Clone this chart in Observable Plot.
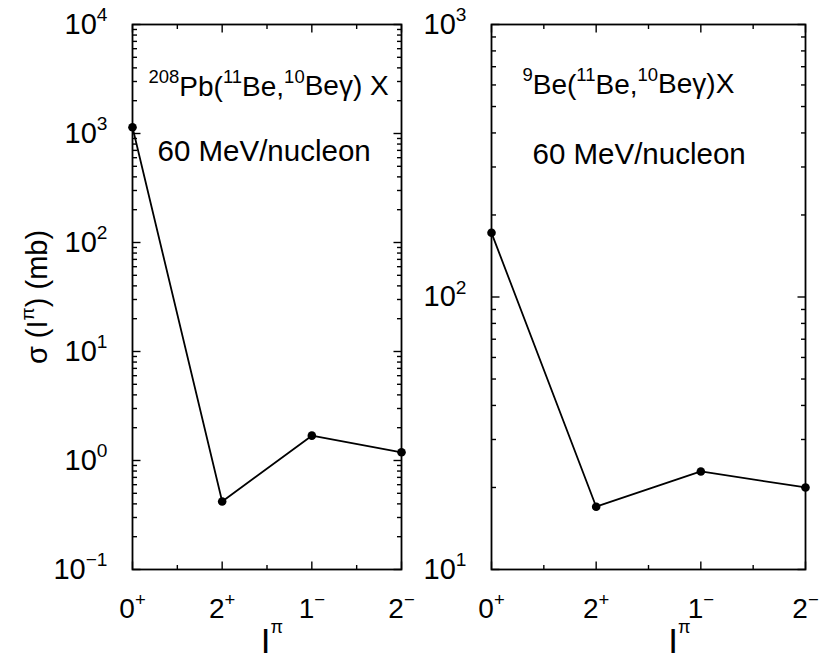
<!DOCTYPE html>
<html><head><meta charset="utf-8">
<script src="https://cdn.jsdelivr.net/npm/d3@7"></script>
<script src="https://cdn.jsdelivr.net/npm/@observablehq/plot@0.6"></script>
<style>
html,body{margin:0;padding:0;background:#fff;}
#chart{position:relative;width:823px;height:660px;overflow:hidden;}
#chart > .panel{position:absolute;top:0;}
svg{overflow:visible}
</style></head><body><div id="chart"></div>
<script>
// ---- data ----
const states = ["0^{+}", "2^{+}", "1^{−}", "2^{−}"];
const pbValues = [1140, 0.42, 1.69, 1.19];
const beValues = [172, 17.0, 22.9, 20.0];
const pbTitle = "^{208}Pb(^{11}Be,^{10}Beγ) X";
const beTitle = "^{9}Be(^{11}Be,^{10}Beγ)X";
const energyLabel = "60 MeV/nucleon";
const yTitle = "σ (I^{π}) (mb)";
const xTitle = "I^{π}";
const pbDecades = [0.1, 1, 10, 100, 1000, 10000];
const beDecades = [10, 100, 1000];
const xMajor = [0, 1, 2, 3];
const xMinor = [0.5, 1.5, 2.5];

const FONT = '"Liberation Sans", Arial, Helvetica, sans-serif';
const tickShape = {draw(context, l) { context.moveTo(0, 0); context.lineTo(0, -l); }};

function expLabel(d) {
  const e = Math.round(Math.log10(d));
  return "10^{" + (e < 0 ? "−" + (-e) : String(e)) + "}";
}

function richText(root) {
  root.querySelectorAll("text").forEach(t => {
    const s = t.textContent;
    if (!s.includes("^{")) return;
    let fs = 0, el = t;
    while (el && el !== root && !fs) { fs = parseFloat(el.getAttribute && el.getAttribute("font-size")) || 0; el = el.parentNode; }
    const SUP = fs > 33 ? 0.52 : 0.66, SHIFT = fs > 33 ? 0.57 : 0.44;
    const parts = s.split(/(\^\{[^}]*\})/).filter(p => p.length);
    while (t.firstChild) t.removeChild(t.firstChild);
    let raised = false;
    parts.forEach(p => {
      const ts = document.createElementNS("http://www.w3.org/2000/svg", "tspan");
      if (p.startsWith("^{")) {
        ts.textContent = p.slice(2, -1);
        ts.setAttribute("font-size", (SUP * 100) + "%");
        if (!raised) ts.setAttribute("dy", (-SHIFT / SUP).toFixed(3) + "em");
        raised = true;
      } else {
        ts.textContent = p;
        if (raised) ts.setAttribute("dy", SHIFT + "em");
        raised = false;
      }
      t.appendChild(ts);
    });
  });
}

function ticks(values, channel, side, length) {
  const rot = {left: 90, right: -90, bottom: 0, top: 180}[side];
  const o = {frameAnchor: side, rotate: rot, length, anchor: "start", shape: tickShape,
             stroke: "black", strokeWidth: 1.4, strokeLinecap: "butt"};
  o[channel] = d => d;
  return Plot.vector(values, o);
}

function panel(cfg) {
  const rows = cfg.values.map((v, i) => ({i, v}));
  const minor = [];
  for (let j = 0; j < cfg.decades.length - 1; j++)
    for (let k = 2; k <= 9; k++) minor.push(k * cfg.decades[j]);
  const marks = [
    ticks(cfg.decades, "y", "left", 8), ticks(minor, "y", "left", 4.5),
    ticks(cfg.decades, "y", "right", 8), ticks(minor, "y", "right", 4.5),
    ticks(xMajor, "x", "bottom", 8), ticks(xMinor, "x", "bottom", 4.5),
    ticks(xMajor, "x", "top", 8), ticks(xMinor, "x", "top", 4.5),
    Plot.frame({stroke: "black", strokeWidth: 1.8}),
    Plot.axisY(cfg.decades, {anchor: "left", tickSize: 0, tickPadding: 25, tickFormat: expLabel,
      fontSize: 29, fontFamily: FONT, fill: "black", label: null}),
    Plot.axisX(xMajor, {anchor: "bottom", tickSize: 0, tickPadding: 29, tickFormat: i => states[i],
      fontSize: 28, fontFamily: FONT, fill: "black", label: null}),
    Plot.line(rows, {x: d => d.i, y: d => d.v, stroke: "black", strokeWidth: 1.8}),
    Plot.dot(rows, {x: d => d.i, y: d => d.v, r: 4.3, fill: "black", stroke: "none"}),
    Plot.text([cfg.title], {text: d => d, frameAnchor: "top-left", dx: cfg.titleDx, dy: cfg.titleDy,
      textAnchor: "start", lineAnchor: "bottom", fontSize: 28, fontFamily: FONT, fill: "black"}),
    Plot.text([energyLabel], {text: d => d, frameAnchor: "top-left", dx: cfg.energyDx, dy: cfg.energyDy,
      textAnchor: "start", lineAnchor: "bottom", fontSize: 29.5, fontFamily: FONT, fill: "black"}),
    Plot.text([xTitle], {text: d => d, frameAnchor: "bottom", dx: cfg.xTitleDx, dy: 83,
      textAnchor: "middle", lineAnchor: "bottom", fontSize: 35, fontFamily: FONT, fill: "black"})
  ];
  if (cfg.showYTitle) marks.push(Plot.text([yTitle], {text: d => d, frameAnchor: "left", dx: -95, rotate: -90,
      textAnchor: "middle", lineAnchor: "middle", fontSize: 29, fontFamily: FONT, fill: "black"}));
  const svg = Plot.plot({
    width: cfg.width, height: 660,
    marginLeft: cfg.marginLeft, marginRight: cfg.marginRight, marginTop: 24, marginBottom: 91,
    x: {type: "linear", domain: [0, 3]},
    y: {type: "log", domain: [cfg.decades[0], cfg.decades[cfg.decades.length - 1]]},
    style: {fontFamily: FONT, background: "transparent", overflow: "visible", color: "black"},
    marks
  });
  richText(svg);
  const div = document.createElement("div");
  div.className = "panel";
  div.style.left = cfg.left + "px";
  div.appendChild(svg);
  return div;
}

const chart = document.getElementById("chart");
chart.appendChild(panel({values: pbValues, decades: pbDecades, left: 0, width: 420, marginLeft: 132, marginRight: 19,
  title: pbTitle, titleDx: 16, titleDy: 71, energyDx: 25, energyDy: 136, xTitleDx: 5, showYTitle: true}));
chart.appendChild(panel({values: beValues, decades: beDecades, left: 400, width: 423, marginLeft: 91, marginRight: 18,
  title: beTitle, titleDx: 31, titleDy: 69, energyDx: 41, energyDy: 139, xTitleDx: 31, showYTitle: false}));
</script></body></html>
